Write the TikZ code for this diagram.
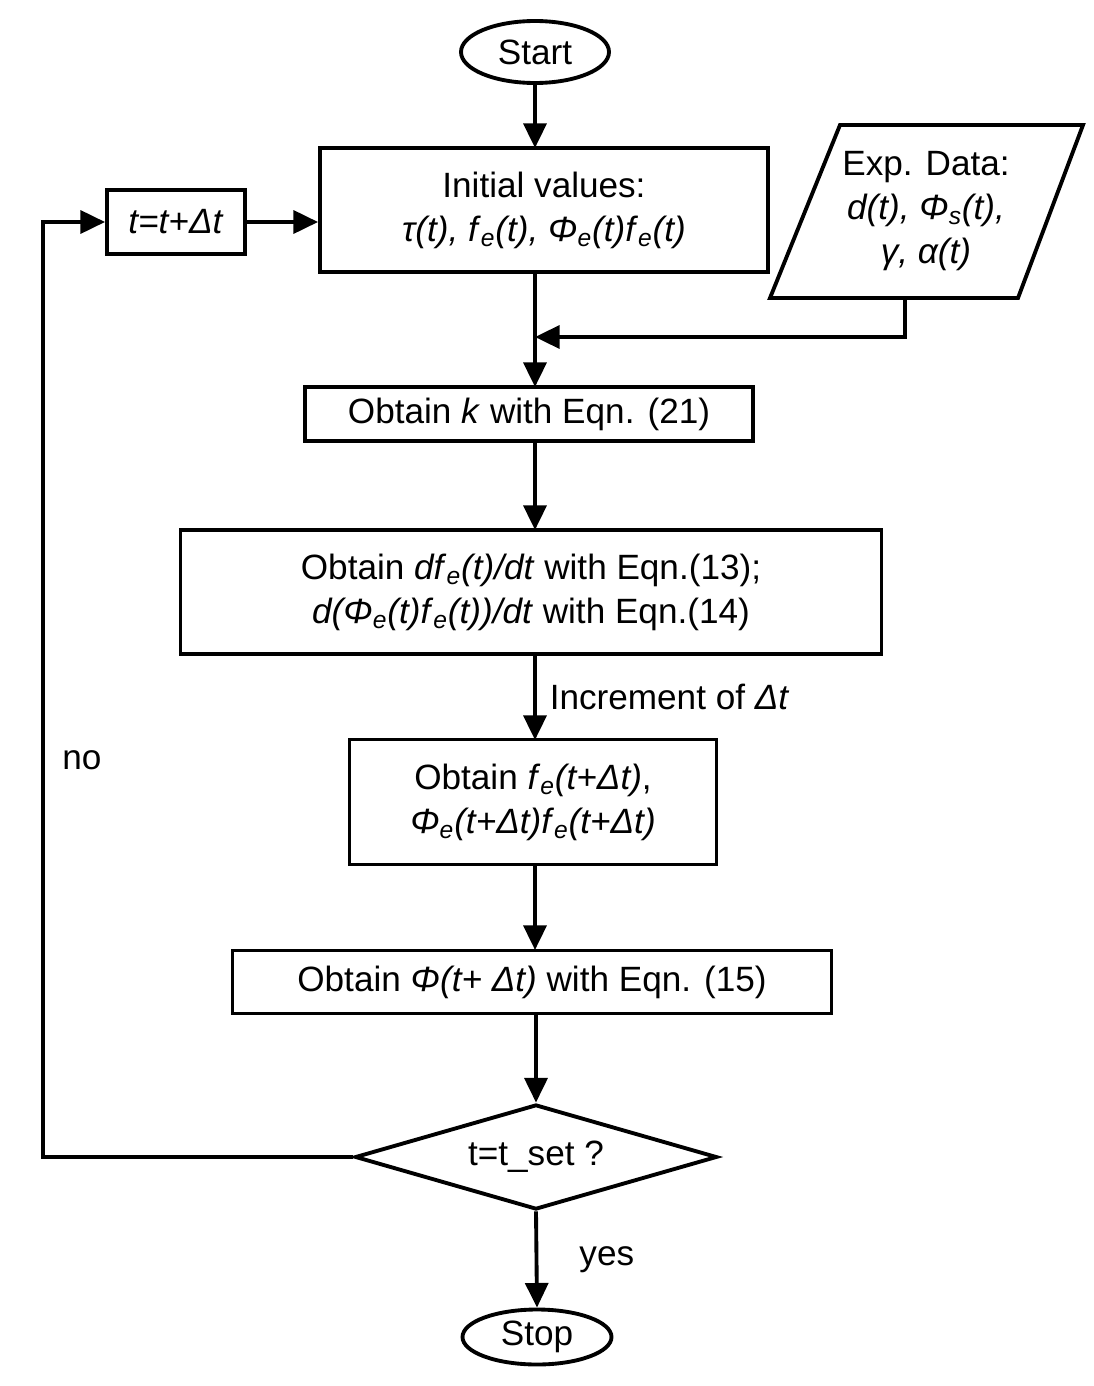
\documentclass[tikz,border=0pt]{standalone}
\usepackage{fontspec}
\setmainfont{Liberation Sans}
\usetikzlibrary{arrows.meta,shapes.geometric,positioning}
\tikzstyle{flow}=[line width=2.2pt, -{Triangle[length=14pt,width=13pt]}]
\tikzstyle{stepbox}=[draw, line width=2.2pt, align=center, inner sep=0pt]
\tikzstyle{term}=[draw, ellipse, line width=2.2pt, inner sep=0pt]
\newcommand{\ii}[1]{\textit{#1}}
\newcommand{\sbe}{\textsubscript{\ii{e}}}
\begin{document}
\begin{tikzpicture}[x=0.02cm,y=-0.02cm,font=\fontsize{20}{25}\selectfont]
    \useasboundingbox (0,0) rectangle (1094,1386);
    \node (start) [term,minimum width=148*0.02cm,minimum height=62*0.02cm] at (535,52) {Start};
    \node (init) [stepbox,minimum width=448*0.02cm,minimum height=124*0.02cm] at (544,210)
        {Initial values:\\ \ii{τ(t), f}\sbe\ii{(t), Φ}\sbe\ii{(t)f}\sbe\ii{(t)}};
    \node (tinc) [stepbox,minimum width=138*0.02cm,minimum height=64*0.02cm] at (176,222)
        {\ii{t=t+Δt}};
    % parallelogram for the data input
    \draw [line width=2.2pt] (840,125) -- (1083,125) -- (1018,298) -- (770,298) -- cycle;
    \node (exp) [align=center] at (926,211)
        {Exp. Data:\\ \ii{d(t), Φ}\textsubscript{\ii{s}}\ii{(t),}\\ \ii{γ, α(t)}};
    \coordinate (expout) at (905,298);
    \node (getk) [stepbox,minimum width=448*0.02cm,minimum height=54*0.02cm] at (529,414)
        {Obtain \ii{k} with Eqn. (21)};
    \node (deriv) [stepbox,minimum width=701*0.02cm,minimum height=124*0.02cm] at (531,592)
        {Obtain \ii{df}\sbe\ii{(t)/dt} with Eqn.(13);\\
         \ii{d(Φ}\sbe\ii{(t)f}\sbe\ii{(t))/dt} with Eqn.(14)};
    \node (fe) [stepbox,minimum width=367*0.02cm,minimum height=125*0.02cm] at (533,802)
        {Obtain \ii{f}\sbe\ii{(t+Δt)},\\ \ii{Φ}\sbe\ii{(t+Δt)f}\sbe\ii{(t+Δt)}};
    \node (phi) [stepbox,minimum width=599*0.02cm,minimum height=63*0.02cm] at (532,982)
        {Obtain \ii{Φ(t+ Δt)} with Eqn. (15)};
    \node (check) [draw,diamond,aspect=3.45,line width=2.2pt,inner sep=0pt,
        minimum width=362*0.02cm,minimum height=105*0.02cm] at (536,1157) {t=t\_set ?};
    \node (stop) [term,minimum width=149*0.02cm,minimum height=55*0.02cm] at (537,1337) {Stop};
    \coordinate (join) at (535,337);

    \draw [flow] (start) -- (535,148);
    \draw [flow] (535,272) -- (535,387);
    \draw [flow] (expout) |- (join);
    \draw [flow] (535,441) -- (535,530);
    \draw [flow] (535,654) -- node[right=4pt] {Increment of \ii{Δt}} (535,740);
    \draw [flow] (535,865) -- (535,950);
    \draw [flow] (536,1013) -- (check.north);
    \draw [flow] (check.south) -- node[right=20pt] {yes} (stop.north);
    \draw [flow] (check.west) -| (43,222) -- (tinc.west);
    \draw [flow] (tinc.east) -- (init.west |- tinc.east);
    \node (no) at (82,760) {no};
\end{tikzpicture}
\end{document}
